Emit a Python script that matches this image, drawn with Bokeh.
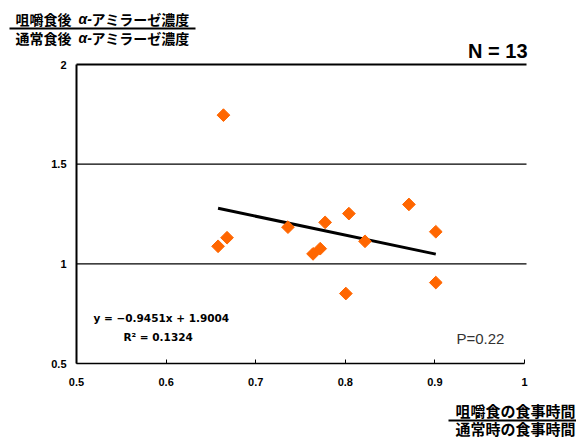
import math
from bokeh.plotting import figure
from bokeh.models import Label, FixedTicker, Range1d
from bokeh.embed import file_html
from bokeh.resources import INLINE

# ---- data ----
ratio_time = [0.664, 0.658, 0.668, 0.736, 0.764, 0.772, 0.7775, 0.804, 0.822, 0.8006, 0.871, 0.901, 0.901]
ratio_amylase = [1.746, 1.088, 1.131, 1.184, 1.050, 1.076, 1.208, 1.252, 1.113, 0.851, 1.298, 1.161, 0.906]
slope = -0.9451
intercept = 1.9004
r_squared = 0.1324
p_value = 0.22
n = 13

x_ticks = [0.5, 0.6, 0.7, 0.8, 0.9, 1.0]
x_tick_labels = ["0.5", "0.6", "0.7", "0.8", "0.9", "1"]
y_ticks = [0.5, 1.0, 1.5, 2.0]
y_tick_labels = ["0.5", "1", "1.5", "2"]
grid_values = [1.0, 1.5, 2.0]

# y-side title pieces: [meal, enzyme symbol, enzyme name + concentration]
y_title_top = ["咀嚼食後", "α-", "アミラーゼ濃度"]
y_title_bottom = ["通常食後", "α-", "アミラーゼ濃度"]
x_title_top = "咀嚼食の食事時間"
x_title_bottom = "通常時の食事時間"

# ---- layout: the frame fills the canvas, axes sit at fixed locations ----
W, H = 576, 438
PX_L, PX_R, PX_T, PX_B = 76, 524, 64, 363   # pixel positions of x=0.5, x=1, y=2, y=0.5
XMIN, XMAX, YMIN, YMAX = 0.5, 1.0, 0.5, 2.0
sx = (PX_R - PX_L) / (XMAX - XMIN)
sy = (PX_B - PX_T) / (YMAX - YMIN)

def dx(px):
    return XMIN + (px - PX_L) / sx

def dy(py):
    return YMAX - (py - PX_T) / sy

p = figure(width=W, height=H, output_backend="svg", toolbar_location=None,
           x_range=Range1d(dx(0), dx(W)), y_range=Range1d(dy(H), dy(0)),
           min_border=0)
p.outline_line_color = None
p.background_fill_color = "white"
p.border_fill_color = "white"

TF = "Liberation Sans"
EQ = "DejaVu Sans"
JP = "Noto Sans CJK JP"

p.xaxis.fixed_location = YMIN
p.yaxis.fixed_location = XMIN
p.xaxis.bounds = (XMIN, XMAX)
p.yaxis.bounds = (YMIN, YMAX)
p.xaxis.ticker = FixedTicker(ticks=x_ticks)
p.xaxis.major_label_overrides = {t: l for t, l in zip(x_ticks, x_tick_labels)}
p.yaxis.ticker = FixedTicker(ticks=y_ticks)
p.yaxis.major_label_overrides = {t: l for t, l in zip(y_ticks, y_tick_labels)}
for ax in (p.xaxis, p.yaxis):
    ax.axis_line_color = "black"
    ax.major_label_text_font = TF
    ax.major_label_text_font_style = "bold"
    ax.major_label_text_font_size = "11px"
    ax.major_label_text_color = "black"
    ax.minor_tick_line_color = None
p.xaxis.axis_line_width = 1.5
p.yaxis.axis_line_width = 2
p.xaxis.major_tick_in = 4
p.xaxis.major_tick_out = 0
p.xaxis.major_tick_line_color = "black"
p.xaxis.major_tick_line_width = 1
p.xaxis.major_label_standoff = 14
p.yaxis.major_tick_in = 0
p.yaxis.major_tick_out = 0
p.yaxis.major_label_standoff = 10

p.xgrid.grid_line_color = None
p.ygrid.grid_line_color = None

# horizontal grid lines, from the y axis to just past x = 1
gx1 = dx(PX_R + 2)
p.segment(x0=[XMIN] * len(grid_values), x1=[gx1] * len(grid_values),
          y0=grid_values, y1=grid_values, line_color="black",
          line_width=[1.2 if g < YMAX else 2 for g in grid_values])

# trend line over the data range
x0, x1 = min(ratio_time), max(ratio_time)
p.line([x0, x1], [slope * x0 + intercept, slope * x1 + intercept],
       line_color="black", line_width=3)

# points
p.scatter(ratio_time, ratio_amylase, marker="square", size=9, angle=math.pi / 4,
          fill_color="#FF6600", line_color="#FF6600")

def label(text, px, py, size, align="left", style="bold", color="black", font=TF):
    p.add_layout(Label(x=dx(px), y=dy(py), text=text, text_font=font,
                       text_font_size=size, text_font_style=style, text_color=color,
                       text_align=align, text_baseline="middle"))

def rule(px0, px1, py, width=2):
    p.segment(x0=[dx(px0)], x1=[dx(px1)], y0=[dy(py)], y1=[dy(py)],
              line_color="black", line_width=width)

# y-side ratio title (top left)
for parts, py in ((y_title_top, 18), (y_title_bottom, 37)):
    label(parts[0], 15, py, "14px", font=JP)
    label(parts[1], 78, py, "14px", font=TF, style="bold italic")
    label(parts[2], 91, py, "14px", font=JP)
rule(9, 195, 28)

# x-side ratio title (bottom right)
label(x_title_top, 575, 410, "15px", align="right", font=JP)
rule(448, 576, 420)
label(x_title_bottom, 575, 428, "15px", align="right", font=JP)

label(f"N = {n}", 527, 50, "20px", align="right")
label(f"y = \u2212{abs(slope):.4f}x + {intercept:.4f}", 93, 317, "10.5px", font=EQ)
label(f"R\u00b2 = {r_squared:.4f}", 123, 336, "10.5px", font=EQ)
label(f"P={p_value:.2f}", 456, 338, "15px", style="normal", color="#333333")

open("out.html", "w").write(file_html(p, INLINE))
